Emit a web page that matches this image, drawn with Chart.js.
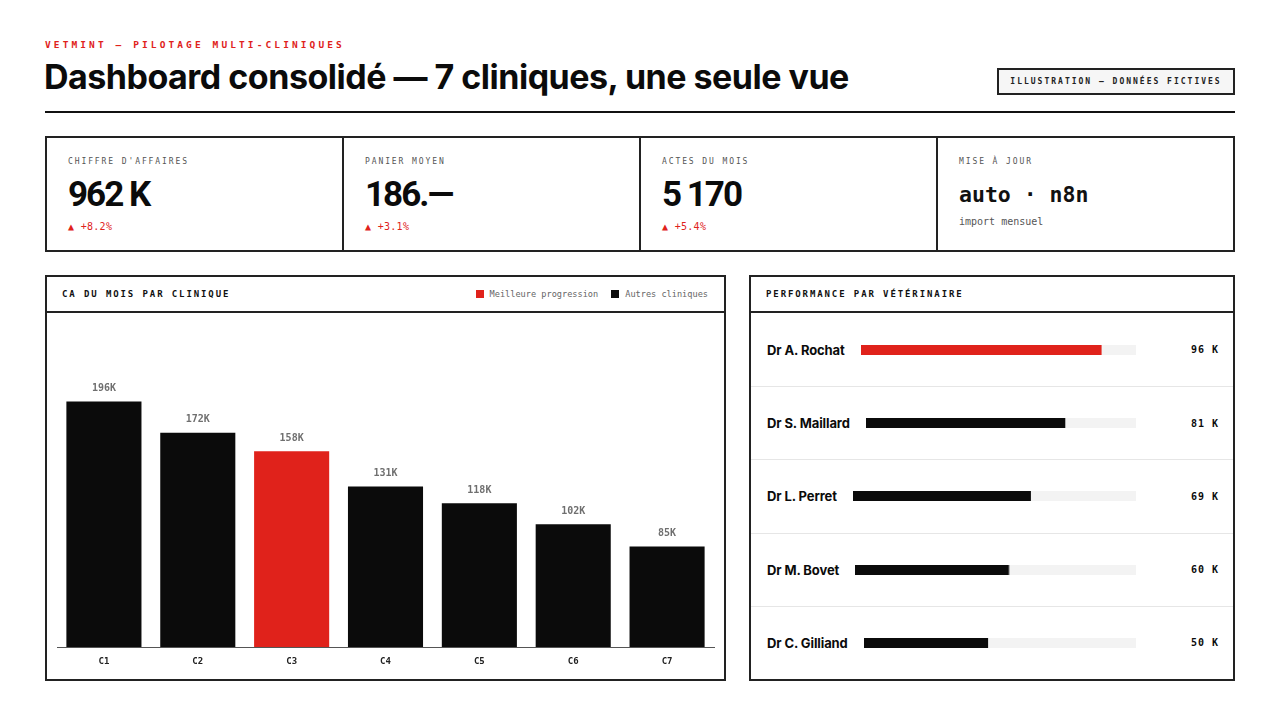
<!DOCTYPE html>
<html lang="fr">
<head>
<meta charset="utf-8">
<script src="https://cdn.jsdelivr.net/npm/chart.js@4.4.1/dist/chart.umd.min.js"></script>
<style>
  html,body{margin:0;padding:0;background:#fff;}
  body{width:1280px;height:720px;position:relative;overflow:hidden;font-family:Inter,"Liberation Sans",sans-serif;color:#0b0b0b;}
  .mono{font-family:"DejaVu Sans Mono","Liberation Mono",monospace;}
  #kicker{position:absolute;left:45px;top:39px;font-size:9.5px;font-weight:700;letter-spacing:3.1px;color:#e0221b;}
  #title{position:absolute;left:44px;top:57px;font-size:34px;font-weight:700;letter-spacing:-0.5px;line-height:40px;white-space:nowrap;}
  #badge{position:absolute;left:997px;top:68px;width:234px;height:23px;border:2px solid #222;background:#f6f6f6;font-size:8px;font-weight:700;letter-spacing:2px;line-height:23px;text-align:center;color:#222;}
  #rule{position:absolute;left:45px;top:111px;width:1190px;height:2px;background:#111;}
  #kpis{position:absolute;left:45px;top:136px;width:1186px;height:112px;border:2px solid #222;display:flex;}
  .kpi{flex:1;position:relative;border-left:2px solid #222;}
  .kpi:first-child{border-left:none;}
  .kpi .lab{position:absolute;left:21px;top:19px;font-size:8px;letter-spacing:1.9px;color:#555;}
  .kpi .val{position:absolute;left:21px;top:37px;font-family:Roboto,Inter,sans-serif;font-size:35px;font-weight:700;letter-spacing:-2px;line-height:40px;}
  .kpi .delta{position:absolute;left:21px;top:83px;font-size:10px;color:#e0221b;letter-spacing:0.3px;}
  .kpi .val2{position:absolute;left:21px;top:43px;font-size:21.5px;font-weight:700;line-height:28px;color:#111;}
  .kpi .sub{position:absolute;left:21px;top:78px;font-size:10px;color:#555;}
  .panel{position:absolute;border:2px solid #222;box-sizing:border-box;}
  .phead{height:36px;border-bottom:2px solid #222;box-sizing:border-box;position:relative;}
  .ptitle{position:absolute;left:15px;top:0;line-height:34px;font-size:9px;font-weight:700;letter-spacing:1.9px;color:#111;}
  #legend{position:absolute;right:16px;top:0;line-height:34px;height:34px;font-size:8.6px;color:#666;display:flex;align-items:center;}
  #legend .sw{display:inline-block;width:8px;height:8px;margin-right:6px;}
  #left{left:45px;top:275px;width:681px;height:406px;}
  #right{left:749px;top:275px;width:486px;height:406px;}
  #mainWrap{position:relative;width:677px;height:366px;}
  .row{height:73.2px;display:flex;align-items:center;border-top:1px solid #e6e6e6;box-sizing:border-box;padding-left:16px;}
  .row:first-of-type{border-top:none;}
  .row .name{font-size:13px;font-weight:700;letter-spacing:-0.1px;white-space:nowrap;margin-right:16px;flex:none;}
  .row .track{position:relative;flex:1 1 0;min-width:0;height:10px;overflow:hidden;}
  .row .v{flex:none;width:97px;box-sizing:border-box;text-align:right;font-size:10px;font-weight:700;letter-spacing:1px;padding-right:14px;}
</style>
</head>
<body>
<div id="kicker" class="mono">VETMINT — PILOTAGE MULTI-CLINIQUES</div>
<div id="title">Dashboard consolidé — 7 cliniques, une seule vue</div>
<div id="badge" class="mono">ILLUSTRATION — DONNÉES FICTIVES</div>
<div id="rule"></div>

<div id="kpis"></div>

<div id="left" class="panel">
  <div class="phead">
    <div class="ptitle mono">CA DU MOIS PAR CLINIQUE</div>
    <div id="legend" class="mono"></div>
  </div>
  <div id="mainWrap"><canvas id="main"></canvas></div>
</div>

<div id="right" class="panel">
  <div class="phead"><div class="ptitle mono">PERFORMANCE PAR VÉTÉRINAIRE</div></div>
  <div id="rows"></div>
</div>

<script>
// ---- Data ----
const kpiLabels = ["CHIFFRE D'AFFAIRES", "PANIER MOYEN", "ACTES DU MOIS", "MISE À JOUR"];
const kpiValues = ["962 K", "186.—", "5 170", "auto · n8n"];
const kpiDeltas = ["▲ +8.2%", "▲ +3.1%", "▲ +5.4%", "import mensuel"];

const clinics = ["C1", "C2", "C3", "C4", "C5", "C6", "C7"];
const clinicRevenue = [196, 172, 158, 131, 118, 102, 85];   // K
const bestProgression = "C3";
const legendLabels = ["Meilleure progression", "Autres cliniques"];

const vets = ["Dr A. Rochat", "Dr S. Maillard", "Dr L. Perret", "Dr M. Bovet", "Dr C. Gilliand"];
const vetRevenue = [96, 81, 69, 60, 50];   // K
const vetScaleMax = 110;

const RED = "#e0221b", BLACK = "#0b0b0b";

// ---- KPI cards ----
const kpis = document.getElementById("kpis");
kpiLabels.forEach((l, i) => {
  const d = document.createElement("div");
  d.className = "kpi";
  const last = i === kpiLabels.length - 1;
  d.innerHTML = `<div class="lab mono">${l}</div>` +
    (last ? `<div class="val2 mono">${kpiValues[i]}</div><div class="sub mono">${kpiDeltas[i]}</div>`
          : `<div class="val">${kpiValues[i]}</div><div class="delta mono">${kpiDeltas[i]}</div>`);
  kpis.appendChild(d);
});

// ---- Legend ----
const lg = document.getElementById("legend");
[[RED, legendLabels[0]], [BLACK, legendLabels[1]]].forEach(([c, t], i) => {
  const s = document.createElement("span");
  s.style.display = "inline-flex"; s.style.alignItems = "center";
  if (i) s.style.marginLeft = "13px";
  s.innerHTML = `<span class="sw" style="background:${c}"></span>${t}`;
  lg.appendChild(s);
});

// ---- Main bar chart ----
const valueLabels = {
  id: "valueLabels",
  afterDatasetsDraw(chart) {
    const { ctx } = chart;
    const meta = chart.getDatasetMeta(0);
    ctx.save();
    ctx.font = "bold 10px 'DejaVu Sans Mono', monospace";
    ctx.fillStyle = "#6f6f6f";
    ctx.textAlign = "center";
    ctx.textBaseline = "bottom";
    meta.data.forEach((bar, i) => {
      ctx.fillText(clinicRevenue[i] + "K", bar.x, bar.y - 8);
    });
    ctx.restore();
  }
};

new Chart(document.getElementById("main"), {
  type: "bar",
  data: {
    labels: clinics,
    datasets: [{
      data: clinicRevenue,
      backgroundColor: clinics.map(c => c === bestProgression ? RED : BLACK),
      borderWidth: 0,
      barPercentage: 0.8,
      categoryPercentage: 1.0
    }]
  },
  options: {
    responsive: true,
    maintainAspectRatio: false,
    animation: false,
    layout: { padding: { left: 10, right: 10, top: 18, bottom: 0 } },
    plugins: { legend: { display: false }, tooltip: { enabled: false } },
    scales: {
      x: {
        grid: { display: false, drawTicks: false },
        border: { display: true, color: "#555", width: 1 },
        ticks: { color: "#222", font: { family: "'DejaVu Sans Mono', monospace", size: 9, weight: "bold" }, padding: 9 },
        afterFit(s) { s.height = 32; }
      },
      y: { display: false, min: 8, max: 250 }
    }
  },
  plugins: [valueLabels]
});

// ---- Vet rows ----
const trackBg = {
  id: "trackBg",
  beforeDatasetsDraw(chart) {
    const { ctx, chartArea: a } = chart;
    ctx.save(); ctx.fillStyle = "#f3f3f3";
    ctx.fillRect(a.left, a.top, a.right - a.left, a.bottom - a.top);
    ctx.restore();
  }
};
const rows = document.getElementById("rows");
vets.forEach((name, i) => {
  const r = document.createElement("div");
  r.className = "row";
  r.innerHTML = `<div class="name">${name}</div><div class="track"><canvas></canvas></div><div class="v mono">${vetRevenue[i]} K</div>`;
  rows.appendChild(r);
  new Chart(r.querySelector("canvas"), {
    type: "bar",
    data: { labels: [name], datasets: [{ data: [vetRevenue[i]], backgroundColor: i === 0 ? RED : BLACK, borderWidth: 0, barPercentage: 1, categoryPercentage: 1 }] },
    options: {
      indexAxis: "y", responsive: true, maintainAspectRatio: false, animation: false,
      layout: { padding: 0 },
      plugins: { legend: { display: false }, tooltip: { enabled: false } },
      scales: { x: { display: false, min: 0, max: vetScaleMax }, y: { display: false } }
    },
    plugins: [trackBg]
  });
});
</script>
</body>
</html>
